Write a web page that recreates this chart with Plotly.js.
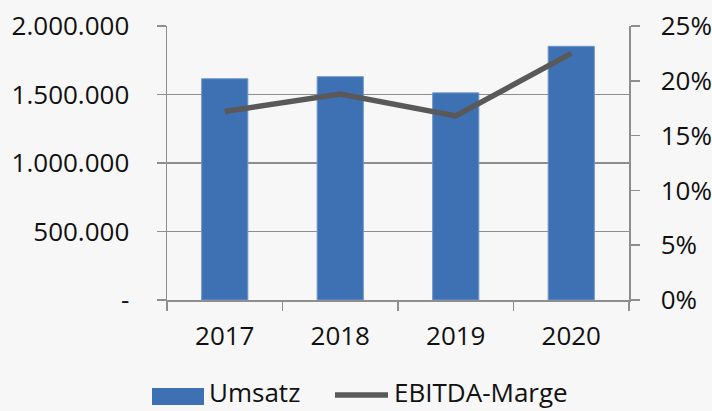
<!DOCTYPE html>
<html>
<head>
<meta charset="utf-8">
<script src="https://cdn.plot.ly/plotly-3.0.1.min.js"></script>
<style>html,body{margin:0;padding:0;background:#f7f7f7;}#chart{width:712px;height:411px;}</style>
</head>
<body>
<div id="chart"></div>
<script>
const years = ["2017", "2018", "2019", "2020"];
const umsatz = [1615000, 1630000, 1512000, 1852000];
const ebitdaMarge = [0.172, 0.188, 0.168, 0.225];
const leftTickVals = [0, 500000, 1000000, 1500000, 2000000];
const leftTickText = ["-", "500.000", "1.000.000", "1.500.000", "2.000.000"];
const rightTickVals = [0, 0.05, 0.10, 0.15, 0.20, 0.25];
const rightTickText = ["0%", "5%", "10%", "15%", "20%", "25%"];
const seriesNames = ["Umsatz", "EBITDA-Marge"];

const barColor = "#3e71b3";
const lineColor = "#595959";
const axisColor = "#8e8e8e";
const font = {family: "Open Sans, Noto Sans, sans-serif", size: 26, color: "#111111"};

const traces = [
  {type: "bar", x: years, y: umsatz, name: seriesNames[0], yaxis: "y",
   marker: {color: barColor, line: {color: "#7097cc", width: 1}}, showlegend: false},
  {type: "scatter", mode: "lines", x: years, y: ebitdaMarge, name: seriesNames[1], yaxis: "y2",
   line: {color: lineColor, width: 5.5}, showlegend: false}
];

// paper coordinates for the legend (plot area 167..629 x 26..300)
const px = p => (p - 167) / 462;
const py = p => (300 - p) / 274;

const layout = {
  width: 712, height: 411,
  margin: {l: 167, r: 83, t: 26, b: 111, pad: 0},
  paper_bgcolor: "#f7f7f7", plot_bgcolor: "#f7f7f7",
  font: font,
  bargap: 0.6,
  showlegend: false,
  xaxis: {type: "category", showline: true, linecolor: axisColor, linewidth: 1.5,
          ticks: "outside", tickson: "boundaries", ticklen: 9, tickcolor: axisColor, tickwidth: 1.5,
          showgrid: false, zeroline: false, ticklabelstandoff: 12, tickfont: font},
  yaxis: {range: [0, 2000000], tickvals: leftTickVals, ticktext: leftTickText,
          showline: true, linecolor: axisColor, linewidth: 1.5,
          ticks: "outside", ticklen: 9, tickcolor: axisColor, tickwidth: 1.5,
          showgrid: true, gridcolor: axisColor, gridwidth: 1.5, zeroline: false,
          ticklabelstandoff: 22, tickfont: font},
  yaxis2: {range: [0, 0.25], tickvals: rightTickVals, ticktext: rightTickText,
           overlaying: "y", side: "right", showline: true, linecolor: axisColor, linewidth: 1.5,
           ticks: "outside", ticklen: 9, tickcolor: axisColor, tickwidth: 1.5,
           showgrid: false, zeroline: false, ticklabelstandoff: 16, tickfont: font},
  shapes: [
    {type: "rect", xref: "paper", yref: "paper", x0: px(152), x1: px(204), y0: py(405), y1: py(388),
     fillcolor: barColor, line: {width: 0}},
    {type: "line", xref: "paper", yref: "paper", x0: px(335), x1: px(388), y0: py(395), y1: py(395),
     line: {color: lineColor, width: 5.5}}
  ],
  annotations: [
    {xref: "paper", yref: "paper", x: px(207), y: py(392.5), xanchor: "left", yanchor: "middle",
     text: seriesNames[0], showarrow: false, font: font},
    {xref: "paper", yref: "paper", x: px(392), y: py(392.5), xanchor: "left", yanchor: "middle",
     text: seriesNames[1], showarrow: false, font: font}
  ]
};

Plotly.newPlot("chart", traces, layout, {staticPlot: true, displayModeBar: false});
</script>
</body>
</html>
